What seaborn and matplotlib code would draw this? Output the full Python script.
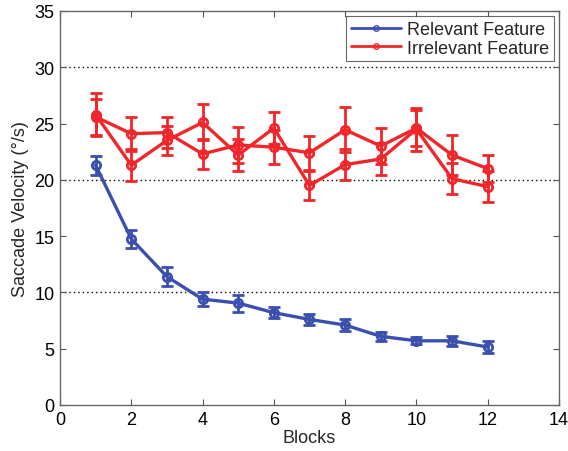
import numpy as np
import pandas as pd
import seaborn as sns
import matplotlib
matplotlib.use("Agg")
import matplotlib.pyplot as plt
from matplotlib.lines import Line2D

blocks = list(range(1, 13))

relevant = [21.3, 14.75, 11.4, 9.4, 9.05, 8.2, 7.6, 7.1, 6.1, 5.7, 5.7, 5.15]
relevant_err = [0.85, 0.8, 0.85, 0.6, 0.75, 0.5, 0.5, 0.55, 0.4, 0.3, 0.45, 0.5]

irrelevant_a = [25.8, 21.3, 23.5, 25.1, 22.2, 24.6, 19.5, 21.35, 21.85, 24.5, 20.1, 19.4]
irrelevant_a_err = [1.95, 1.4, 1.3, 1.6, 1.4, 1.4, 1.3, 1.4, 1.4, 1.9, 1.4, 1.4]

irrelevant_b = [25.6, 24.1, 24.2, 22.3, 23.1, 22.9, 22.4, 24.45, 23.0, 24.6, 22.2, 21.0]
irrelevant_b_err = [1.6, 1.5, 1.35, 1.3, 1.6, 1.5, 1.5, 2.0, 1.6, 1.6, 1.8, 1.2]

BLUE = "#3a4fae"
RED = "#f0262a"

rows = []
for name, run, vals, errs in [("Relevant Feature", "r", relevant, relevant_err),
                              ("Irrelevant Feature", "a", irrelevant_a, irrelevant_a_err),
                              ("Irrelevant Feature", "b", irrelevant_b, irrelevant_b_err)]:
    for b, v, e in zip(blocks, vals, errs):
        rows.append([name, run, b, v, e])
df = pd.DataFrame(rows, columns=["feature", "run", "Blocks", "velocity", "err"])

sns.set_theme(style="white")
plt.rcParams["font.family"] = ["Liberation Sans", "DejaVu Sans"]

fig = plt.figure(figsize=(5.68, 4.52), dpi=100)
ax = fig.add_axes([0.1056, 0.1018, 0.8785, 0.8717])

for y in [10, 20, 30]:
    ax.axhline(y, color="black", linestyle=(0, (1, 2.2)), linewidth=1.0, zorder=0)

palette = {"Relevant Feature": BLUE, "Irrelevant Feature": RED}
for (feat, run), g in df.groupby(["feature", "run"]):
    ax.errorbar(g["Blocks"], g["velocity"], yerr=g["err"], fmt="none",
                ecolor=palette[feat], elinewidth=2, capsize=4.5, capthick=2, zorder=2)

sns.lineplot(data=df, x="Blocks", y="velocity", hue="feature", units="run",
             estimator=None, palette=palette, marker="o", markersize=6,
             markerfacecolor="none", markeredgewidth=2, linewidth=2.4,
             legend=False, ax=ax, zorder=3)
for line in ax.lines:
    if line.get_marker() == "o":
        line.set_markeredgecolor(line.get_color())

ax.set_xlim(0, 14)
ax.set_ylim(0, 35)
ax.set_xticks(range(0, 15, 2))
ax.set_yticks(range(0, 36, 5))
ax.tick_params(direction="in", length=4, width=0.8, colors="#555555",
               labelcolor="black", labelsize=13, top=True, right=True,
               bottom=True, left=True, pad=4)
for s in ax.spines.values():
    s.set_color("#666666")
    s.set_linewidth(1.0)

ax.set_xlabel("Blocks", fontsize=13, labelpad=1)
ax.set_ylabel("Saccade Velocity (°/s)", fontsize=13, labelpad=4)

handles = [Line2D([], [], color=BLUE, marker="o", markersize=4, markerfacecolor="none", linewidth=2),
           Line2D([], [], color=RED, marker="o", markersize=4, markerfacecolor="none", linewidth=2)]
leg = ax.legend(handles, ["Relevant Feature", "Irrelevant Feature"], loc="upper right",
                fontsize=13, frameon=True, fancybox=False, edgecolor="#444444",
                borderaxespad=0.3, handlelength=2.8, handletextpad=0.3,
                borderpad=0.25, labelspacing=0.1)
leg.get_frame().set_linewidth(0.8)

fig.savefig("out.png", dpi=100)
